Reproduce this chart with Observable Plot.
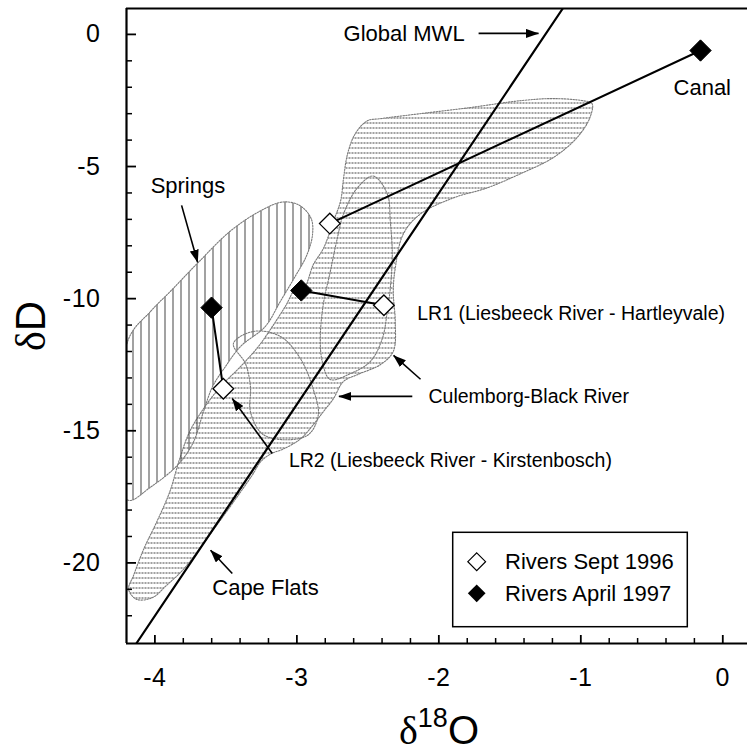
<!DOCTYPE html>
<html>
<head>
<meta charset="utf-8">
<script src="https://cdn.jsdelivr.net/npm/d3@7"></script>
<script src="https://cdn.jsdelivr.net/npm/@observablehq/plot@0.6"></script>
<style>
  html, body { margin: 0; padding: 0; background: #fff; }
  svg { display: block; }
</style>
</head>
<body>
<div id="chart"></div>
<script>
// ---- data ----
const xMajor = [-4, -3, -2, -1, 0];
const xMinor = [-3.8, -3.6, -3.4, -3.2, -2.8, -2.6, -2.4, -2.2, -1.8, -1.6, -1.4, -1.2, -0.8, -0.6, -0.4, -0.2];
const yMajor = [0, -5, -10, -15, -20];
const yMinor = [-1, -2, -3, -4, -6, -7, -8, -9, -11, -12, -13, -14, -16, -17, -18, -19, -21, -22];

// Rivers: same order = same site (Canal, LR1, LR2)
const sept1996 = [
  {x: -2.768, y: -7.16},
  {x: -2.387, y: -10.25},
  {x: -3.518, y: -13.41}
];
const april1997 = [
  {x: -0.157, y: -0.61},
  {x: -2.969, y: -9.69},
  {x: -3.601, y: -10.34}
];

// Global meteoric water line end points
const mwl = [{x: -4.131, y: -23.05}, {x: -1.127, y: 0.98}];

// Region outlines
const springsOutline = [
  [-4.192, -11.62], [-4.030, -10.48], [-3.890, -9.72], [-3.700, -8.66], [-3.468, -7.44],
  [-3.257, -6.68], [-3.095, -6.34], [-2.975, -6.49], [-2.898, -6.99], [-2.891, -7.63],
  [-2.933, -8.39], [-3.011, -9.15], [-3.116, -10.10], [-3.222, -11.05], [-3.397, -11.81],
  [-3.503, -12.57], [-3.594, -13.33], [-3.658, -14.28], [-3.728, -15.42], [-3.833, -16.26],
  [-4.030, -17.13], [-4.192, -17.62]
];
const bandOutline = [
  [-4.128, -21.38], [-4.185, -21.00], [-4.150, -20.47], [-4.079, -19.48], [-3.988, -18.46],
  [-3.896, -17.32], [-3.826, -16.07], [-3.756, -15.04], [-3.658, -14.17], [-3.538, -13.33],
  [-3.397, -12.57], [-3.271, -11.81], [-3.172, -11.05], [-3.081, -10.29], [-2.996, -9.53],
  [-2.953, -9.61], [-2.883, -8.70], [-2.812, -8.09], [-2.742, -7.06], [-2.692, -6.30],
  [-2.671, -5.43], [-2.643, -4.52], [-2.589, -3.76], [-2.504, -3.27], [-2.413, -3.19],
  [-2.131, -3.00], [-1.780, -2.77], [-1.428, -2.51], [-1.196, -2.43], [-0.985, -2.51],
  [-0.921, -2.62], [-0.936, -3.15], [-1.027, -3.91], [-1.196, -4.67], [-1.428, -5.28],
  [-1.660, -5.81], [-1.899, -6.19], [-2.131, -6.80], [-2.251, -7.56], [-2.307, -8.85],
  [-2.321, -9.72], [-2.307, -10.86], [-2.321, -12.00], [-2.413, -12.50], [-2.575, -12.88],
  [-2.673, -13.14], [-2.743, -13.79], [-2.814, -14.28], [-2.884, -14.77], [-2.975, -15.31],
  [-3.095, -15.69], [-3.186, -15.88], [-3.256, -16.18], [-3.313, -16.67], [-3.397, -17.32],
  [-3.538, -18.38], [-3.679, -19.41], [-3.798, -20.24], [-3.918, -20.85], [-4.016, -21.31]
];
const domeOutline = [
  [-2.462, -5.36], [-2.363, -6.04], [-2.342, -7.06], [-2.328, -8.32], [-2.342, -9.61],
  [-2.363, -10.48], [-2.398, -11.51], [-2.483, -12.38], [-2.624, -12.84], [-2.765, -13.06],
  [-2.821, -12.38], [-2.835, -11.51], [-2.814, -10.22], [-2.764, -8.96], [-2.715, -7.71],
  [-2.672, -6.80], [-2.574, -5.81]
];
const ellipseOutline = [
  [-3.447, -11.70], [-3.306, -11.24], [-3.116, -11.43], [-2.975, -12.27], [-2.884, -13.44],
  [-2.849, -14.39], [-2.919, -15.15], [-3.081, -15.34], [-3.243, -15.12], [-3.327, -14.28],
  [-3.327, -13.33], [-3.362, -12.46]
];

// Annotations (short labels are set larger than the long river labels)
const shortLabels = [
  {x: -2.671, y: -0.265, text: "Global MWL"},
  {x: -0.347, y: -2.308, text: "Canal"},
  {x: -4.030, y: -6.016, text: "Springs"},
  {x: -3.596, y: -21.23, text: "Cape Flats"}
];
const longLabels = [
  {x: -2.152, y: -10.82, text: "LR1 (Liesbeeck River - Hartleyvale)"},
  {x: -2.073, y: -13.96, text: "Culemborg-Black River"},
  {x: -3.056, y: -16.37, text: "LR2 (Liesbeeck River - Kirstenbosch)"}
];
const arrows = [
  {x1: -1.720, y1: 0.038, x2: -1.298, y2: 0.038},
  {x1: -3.812, y1: -6.470, x2: -3.699, y2: -8.627},
  {x1: -2.129, y1: -13.05, x2: -2.319, y2: -12.15},
  {x1: -2.187, y1: -13.70, x2: -2.704, y2: -13.70},
  {x1: -3.173, y1: -15.86, x2: -3.455, y2: -13.78},
  {x1: -3.455, y1: -20.40, x2: -3.608, y2: -19.52}
];
const legendItems = ["Rivers Sept 1996", "Rivers April 1997"];

// ---- chart ----
const W = 747, H = 752;
const mL = 126, mR = 0, mT = 8, mB = 109;
const innerW = W - mL - mR, innerH = H - mT - mB;
const xDom = [-4.2, 0.174], yDom = [-23.05, 0.98];
const FONT = "'Liberation Sans', Arial, Helvetica, sans-serif";
const SERIF = "'Liberation Serif', 'DejaVu Serif', serif";

const connections = april1997.flatMap((d, i) => [
  {x: d.x, y: d.y, k: i}, {x: sept1996[i].x, y: sept1996[i].y, k: i}
]);
const px = d => d[0], py = d => d[1];
const outlineStyle = {stroke: "#7a7a7a", strokeWidth: 1.1, strokeDasharray: "1.5,1.3"};

const plot = Plot.plot({
  width: W, height: H,
  marginLeft: mL, marginRight: mR, marginTop: mT, marginBottom: mB,
  style: {fontFamily: FONT, background: "white", color: "black", overflow: "visible"},
  x: {domain: xDom, label: null},
  y: {domain: yDom, label: null},
  marks: [
    // regions
    Plot.line(bandOutline, {x: px, y: py, curve: "catmull-rom-closed", fill: "url(#hatchH)", ...outlineStyle, clip: true}),
    Plot.line(springsOutline, {x: px, y: py, curve: "catmull-rom-closed", fill: "url(#hatchV)", ...outlineStyle, clip: true}),
    Plot.line(domeOutline, {x: px, y: py, curve: "catmull-rom-closed", fill: "none", ...outlineStyle}),
    Plot.line(ellipseOutline, {x: px, y: py, curve: "catmull-rom-closed", fill: "none", ...outlineStyle}),
    // MWL
    Plot.line(mwl, {x: "x", y: "y", stroke: "black", strokeWidth: 2.2, clip: true}),
    // frame lines
    Plot.ruleX([xDom[0]], {stroke: "black", strokeWidth: 2.2}),
    Plot.ruleY([yDom[0]], {stroke: "black", strokeWidth: 2.2}),
    Plot.ruleY([yDom[1]], {stroke: "black", strokeWidth: 2.2}),
    // inward ticks
    Plot.ruleX(xMajor, {stroke: "black", strokeWidth: 1.8, insetTop: innerH - 8}),
    Plot.ruleX(xMinor, {stroke: "black", strokeWidth: 1.5, insetTop: innerH - 5}),
    Plot.ruleY(yMajor, {stroke: "black", strokeWidth: 1.8, insetRight: innerW - 10}),
    Plot.ruleY(yMinor, {stroke: "black", strokeWidth: 1.5, insetRight: innerW - 6}),
    Plot.axisX(xMajor, {tickSize: 0, tickPadding: 25, fontSize: 25, tickFormat: d => String(d), label: null}),
    Plot.axisY(yMajor, {tickSize: 0, tickPadding: 26, fontSize: 25, tickFormat: d => String(d), label: null}),
    // river connections
    Plot.line(connections, {x: "x", y: "y", z: "k", stroke: "black", strokeWidth: 2}),
    Plot.dot(sept1996, {x: "x", y: "y", symbol: "diamond2", r: 9.3, fill: "white", stroke: "black", strokeWidth: 1.3}),
    Plot.dot(april1997, {x: "x", y: "y", symbol: "diamond2", r: 9.6, fill: "black", stroke: "black", strokeWidth: 1}),
    // annotations
    Plot.link(arrows, {x1: "x1", y1: "y1", x2: "x2", y2: "y2", stroke: "black", strokeWidth: 1.6}),
    Plot.text(shortLabels, {x: "x", y: "y", text: "text", textAnchor: "start", lineAnchor: "bottom", fontSize: 22, fill: "black"}),
    Plot.text(longLabels, {x: "x", y: "y", text: "text", textAnchor: "start", lineAnchor: "bottom", fontSize: 19.5, fill: "black"})
  ]
});

const svg = d3.select(plot);
const defs = svg.insert("defs", ":first-child");
const ph = defs.append("pattern").attr("id", "hatchH").attr("patternUnits", "userSpaceOnUse")
  .attr("width", 6).attr("height", 5);
ph.append("line").attr("x1", 0).attr("x2", 6).attr("y1", 2.5).attr("y2", 2.5)
  .attr("stroke", "#444").attr("stroke-width", 1).attr("stroke-dasharray", "2 1")
  .attr("shape-rendering", "crispEdges");
const pv = defs.append("pattern").attr("id", "hatchV").attr("patternUnits", "userSpaceOnUse")
  .attr("width", 8).attr("height", 4);
pv.append("line").attr("x1", 4.5).attr("x2", 4.5).attr("y1", 0).attr("y2", 4)
  .attr("stroke", "#444").attr("stroke-width", 1).attr("shape-rendering", "crispEdges");
defs.append("marker").attr("id", "ahead").attr("viewBox", "0 0 13 9")
  .attr("refX", 12.5).attr("refY", 4.5).attr("markerWidth", 13).attr("markerHeight", 9)
  .attr("markerUnits", "userSpaceOnUse").attr("orient", "auto")
  .append("path").attr("d", "M0,0L13,4.5L0,9Z").attr("fill", "black");
svg.selectAll('g[aria-label="link"] path').attr("marker-end", "url(#ahead)");
svg.selectAll('g[aria-label="x-axis tick label"] text, g[aria-label="y-axis tick label"] text')
  .attr("letter-spacing", "0.5px");

// axis titles
const yt = svg.append("text").attr("transform", "translate(45,326) rotate(-90)")
  .attr("text-anchor", "middle").attr("font-size", 42).attr("fill", "black");
yt.append("tspan").attr("font-family", SERIF).text("δ");
yt.append("tspan").attr("font-family", FONT).text("D");

const xt = svg.append("text").attr("x", 439).attr("y", 744)
  .attr("text-anchor", "middle").attr("font-size", 40).attr("fill", "black");
xt.append("tspan").attr("font-family", SERIF).text("δ");
xt.append("tspan").attr("font-family", FONT).attr("font-size", 27).attr("dy", -17).text("18");
xt.append("tspan").attr("font-family", FONT).attr("dy", 17).text("O");

// legend
const lg = svg.append("g").attr("text-anchor", "start");
lg.append("rect").attr("x", 452.7).attr("y", 532.3).attr("width", 234.6).attr("height", 94.4)
  .attr("fill", "white").attr("stroke", "black").attr("stroke-width", 1.5);
const sym = d3.symbol(d3.symbolDiamond2, 200)();
lg.append("path").attr("d", sym).attr("transform", "translate(476.7,561.7)")
  .attr("fill", "white").attr("stroke", "black").attr("stroke-width", 1.2);
lg.append("path").attr("d", sym).attr("transform", "translate(476.7,593.3)")
  .attr("fill", "black");
legendItems.forEach((t, i) => {
  lg.append("text").attr("x", 505).attr("y", 569 + i * 32).attr("font-size", 22)
    .attr("text-anchor", "start").attr("font-family", FONT).attr("fill", "black").text(t);
});

document.getElementById("chart").appendChild(plot);
</script>
</body>
</html>
